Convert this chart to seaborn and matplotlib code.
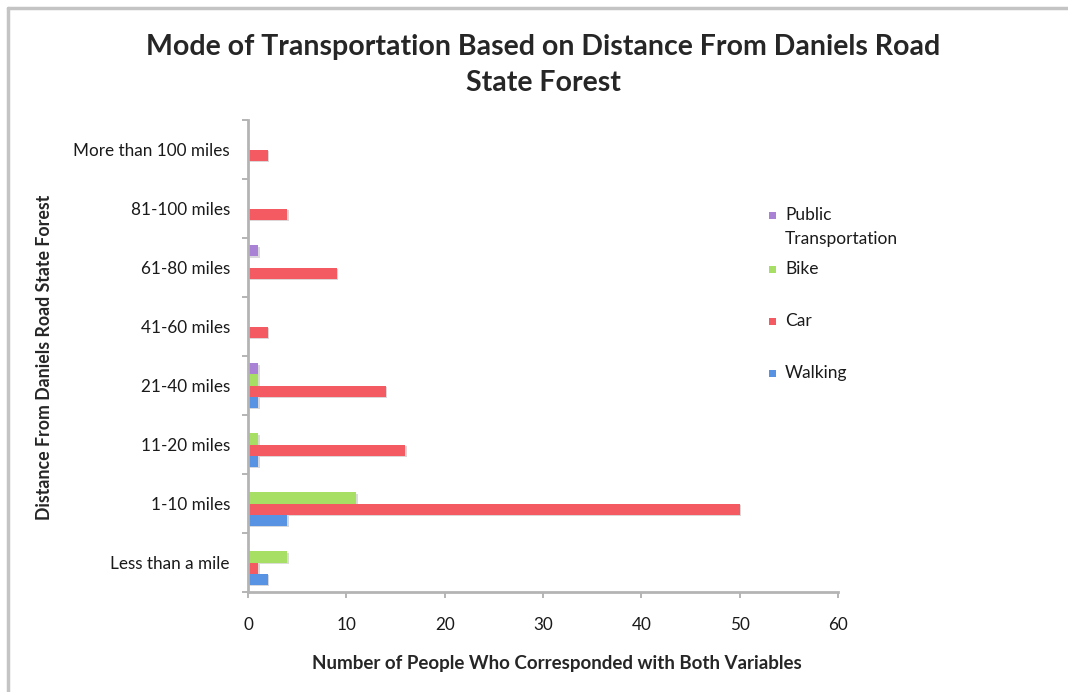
import matplotlib
matplotlib.use("Agg")
import matplotlib.pyplot as plt
import matplotlib.patheffects as pe
from matplotlib.patches import Rectangle
import seaborn as sns
import pandas as pd

# Distance bands, listed top to bottom as drawn
distances = ["More than 100 miles", "81-100 miles", "61-80 miles", "41-60 miles",
             "21-40 miles", "11-20 miles", "1-10 miles", "Less than a mile"]
modes = ["Public Transportation", "Bike", "Car", "Walking"]
legend_labels = ["Public\nTransportation", "Bike", "Car", "Walking"]

public_transportation = [0, 0, 1, 0, 1, 0, 0, 0]
bike = [0, 0, 0, 0, 1, 1, 11, 4]
car = [2, 4, 9, 2, 14, 16, 50, 1]
walking = [0, 0, 0, 0, 1, 1, 4, 2]

x_ticks = [0, 10, 20, 30, 40, 50, 60]

colors = {"Public Transportation": "#a982d6", "Bike": "#a7df64",
          "Car": "#f45a62", "Walking": "#5892e2"}

rows = []
for mode, vals in zip(modes, [public_transportation, bike, car, walking]):
    for d, v in zip(distances, vals):
        rows.append({"Distance": d, "Mode": mode, "Count": v})
df = pd.DataFrame(rows)

sns.set_style("white")
plt.rcParams["font.family"] = ["Lato", "DejaVu Sans"]

W, H = 1068, 692
fig = plt.figure(figsize=(W / 100, H / 100), dpi=100)
ax = fig.add_axes([248 / W, 1 - 592 / H, 590 / W, 472 / H])

sns.barplot(data=df, x="Count", y="Distance", hue="Mode", order=distances,
            hue_order=modes, palette=colors, orient="h", width=0.75,
            ax=ax, legend=False, linewidth=0, saturation=1)

for bar in ax.patches:
    bar.set_path_effects([pe.SimplePatchShadow(offset=(1.2, -1.2), alpha=0.18),
                          pe.Normal()])

ax.set_xlim(0, 60)
ax.set_xticks(x_ticks)
ax.set_ylim(len(distances) - 0.5, -0.5)
ax.set_yticks(range(len(distances)))
ax.set_yticks([i + 0.5 for i in range(-1, len(distances))], minor=True)
ax.set_yticklabels(distances)

ax.tick_params(axis="y", which="major", length=0, pad=13, labelsize=12.3,
               labelcolor="#1a1a1a")
ax.tick_params(axis="y", which="minor", length=4, width=1.2, color="#a8a8a8",
               direction="out", left=True)
ax.tick_params(axis="x", which="major", length=4, width=1.2, color="#a8a8a8",
               direction="out", bottom=True, pad=14, labelsize=12.3,
               labelcolor="#1a1a1a")

for side in ["top", "right"]:
    ax.spines[side].set_visible(False)
for side in ["left", "bottom"]:
    ax.spines[side].set_color("#b4b4b4")
    ax.spines[side].set_linewidth(2)

ax.set_xlabel("Number of People Who Corresponded with Both Variables",
              fontsize=13.5, fontweight="bold")
ax.xaxis.set_label_coords(0.524, -0.133)
ax.set_ylabel("")
fig.text(45 / W, 1 - 357 / H, "Distance From Daniels Road State Forest",
         rotation=90, ha="center", va="center", fontsize=12.8, fontweight="bold")

fig.text(543 / W, 1 - 65 / H,
         "Mode of Transportation Based on Distance From Daniels Road\nState Forest",
         ha="center", va="center", fontsize=20.5, fontweight="bold",
         linespacing=1.45)

# legend: small colour squares with labels to the right
legend_tops = [216, 270, 322, 374]
for mode, label, y in zip(modes, legend_labels, legend_tops):
    fig.add_artist(Rectangle((769 / W, 1 - (y + 3) / H), 7 / W, 7 / H,
                             transform=fig.transFigure, facecolor=colors[mode],
                             edgecolor="none"))
    fig.text(785 / W, 1 - (y - 9) / H, label, ha="left", va="top",
             fontsize=12.5, color="#1a1a1a", linespacing=1.6)

# thin gray frame lines along the top and left edges
fig.add_artist(plt.Line2D([8 / W, 1], [1 - 8 / H, 1 - 8 / H],
                          transform=fig.transFigure, color="#c4c4c4", lw=2.5))
fig.add_artist(plt.Line2D([8 / W, 8 / W], [0, 1 - 8 / H],
                          transform=fig.transFigure, color="#c4c4c4", lw=2.5))

fig.savefig("out.png", dpi=100)
